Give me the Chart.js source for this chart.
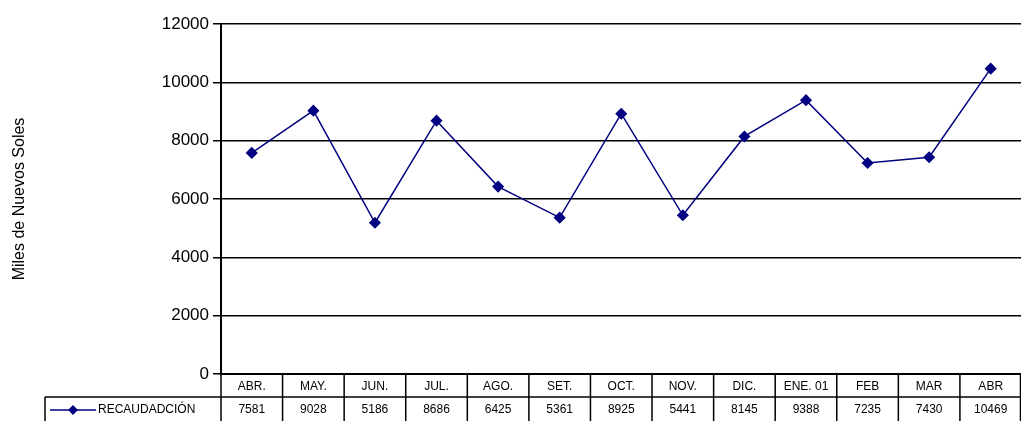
<!DOCTYPE html>
<html><head><meta charset="utf-8">
<script src="https://cdn.jsdelivr.net/npm/chart.js@4"></script>
<style>html,body{margin:0;padding:0;background:#fff;overflow:hidden}#wrap{width:1028px;height:421px}</style>
</head><body><div id="wrap"><canvas id="c"></canvas></div>
<script>
const months = ['ABR.', 'MAY.', 'JUN.', 'JUL.', 'AGO.', 'SET.', 'OCT.', 'NOV.', 'DIC.', 'ENE. 01', 'FEB', 'MAR', 'ABR'];
const recaudacion = [7581, 9028, 5186, 8686, 6425, 5361, 8925, 5441, 8145, 9388, 7235, 7430, 10469];
const seriesName = 'RECAUDADCIÓN';
const yTitle = 'Miles de Nuevos Soles';
const navy = '#000080';

// tabla de datos bajo el eje
const dataTable = {
    id: 'dataTable',
    afterDraw(chart) {
        const ctx = chart.ctx, x = chart.scales.x, a = chart.chartArea;
        const step = x.getPixelForValue(1) - x.getPixelForValue(0);
        const r1 = a.bottom, r2 = a.bottom + 23, r3 = 421;
        ctx.save();
        ctx.strokeStyle = '#000'; ctx.lineWidth = 1.5;
        ctx.beginPath();
        ctx.moveTo(45, r2); ctx.lineTo(a.right, r2);
        ctx.moveTo(45, r2); ctx.lineTo(45, r3);
        for (let i = 0; i <= months.length; i++) {
            const px = Math.min(a.left + i * step, a.right - 1);
            ctx.moveTo(px, r1); ctx.lineTo(px, r3);
        }
        ctx.stroke();
        ctx.fillStyle = '#000'; ctx.textAlign = 'center'; ctx.textBaseline = 'middle';
        ctx.font = '12px Liberation Sans, Arial';
        months.forEach((m, i) => {
            const cx = x.getPixelForValue(i);
            ctx.fillText(m, cx, (r1 + r2) / 2 + 1);
            ctx.fillText(String(recaudacion[i]), cx, (r2 + r3) / 2 + 1);
        });
        // leyenda
        const ly = (r2 + r3) / 2 + 1;
        ctx.strokeStyle = navy; ctx.lineWidth = 1.5;
        ctx.beginPath(); ctx.moveTo(50, ly); ctx.lineTo(96, ly); ctx.stroke();
        ctx.fillStyle = navy;
        ctx.beginPath(); ctx.moveTo(73, ly - 5); ctx.lineTo(78, ly); ctx.lineTo(73, ly + 5); ctx.lineTo(68, ly); ctx.closePath(); ctx.fill();
        ctx.fillStyle = '#000'; ctx.textAlign = 'left';
        ctx.fillText(seriesName, 98, ly);
        // título del eje
        ctx.translate(20, 199); ctx.rotate(-Math.PI / 2);
        ctx.textAlign = 'center'; ctx.font = '16px Liberation Sans, Arial';
        ctx.fillText(yTitle, 0, 0);
        ctx.restore();
    }
};

new Chart(document.getElementById('c'), {
    type: 'line',
    data: {
        labels: months,
        datasets: [{
            label: seriesName,
            data: recaudacion,
            borderColor: navy,
            backgroundColor: navy,
            borderWidth: 1.5,
            tension: 0,
            pointStyle: 'rectRot',
            pointRadius: 5,
            pointHoverRadius: 5
        }]
    },
    options: {
        responsive: true,
        maintainAspectRatio: false,
        animation: false,
        layout: { padding: { top: 24, right: 0, bottom: 39, left: 0 } },
        plugins: { legend: { display: false }, tooltip: { enabled: false } },
        scales: {
            x: {
                offset: true,
                ticks: { display: false },
                grid: { display: false },
                border: { color: '#000', width: 2 }
            },
            y: {
                min: 0, max: 12000,
                afterFit(s) { s.width = 221; },
                ticks: { stepSize: 2000, color: '#000', font: { size: 17, family: 'Liberation Sans, Arial' }, padding: 4,
                    callback: v => String(v) },
                grid: { color: '#000', lineWidth: 1.5, tickLength: 8, drawOnChartArea: true },
                border: { color: '#000', width: 2 }
            }
        }
    },
    plugins: [dataTable]
});
</script></body></html>
